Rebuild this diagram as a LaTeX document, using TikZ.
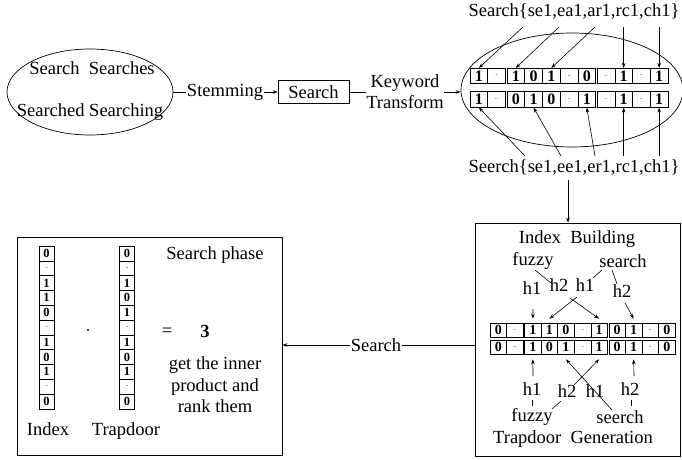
\documentclass[tikz,border=0pt]{standalone}
\usepackage{fontspec}
\setmainfont{Liberation Serif}
\usetikzlibrary{arrows.meta,shapes.geometric,calc}
\newcommand{\dd}{{\fontsize{6}{6}\selectfont\mdseries..}}
\newcommand{\ds}{{\fontsize{6}{6}\selectfont\mdseries -}}
\tikzset{
  txt/.style={font=\fontsize{18.5}{21}\selectfont, inner sep=0.5pt},
  cell/.style={draw, line width=0.6pt, inner sep=0pt},
  arr/.style={-{Stealth[length=5pt,width=3.5pt]}, line width=0.6pt},
  ln/.style={line width=0.6pt},
  box/.style={draw, line width=0.8pt, inner sep=0pt},
}
\begin{document}
\begin{tikzpicture}[x=1pt,y=-1pt]
\useasboundingbox (0,0) rectangle (682,460);

% ---------- top row ----------
\node[draw, ellipse, line width=0.7pt, minimum width=166, minimum height=86, inner sep=0pt] (E1) at (90,92) {};
\node[txt] (w1) at (92,68) {Search\ \ Searches};
\node[txt] (w2) at (90,112) {Searched Searching};
\node[txt] (stem) at (225,92) {Stemming};
\node[draw, line width=0.7pt, minimum width=71, minimum height=23, inner sep=0pt, font=\fontsize{18.5}{21}\selectfont] (kw) at (313.5,92) {Search};
\node[txt, align=center] (kt) at (405,92) {Keyword\\Transform};
\draw[ln] (E1.east) -- (stem.west);
\draw[arr] (stem.east) -- (kw.west);
\draw[ln] (kw.east) -- (kt.west);
\node[draw, ellipse, line width=0.7pt, minimum width=222, minimum height=114, inner sep=0pt] (E2) at (572,90) {};
\draw[arr] (kt.east) -- (kt.east -| E2.west);

% top arrays
\foreach \v [count=\i] in {1,\ds,1,0,1,\dd,0,\dd,1,\ds,1}
  \node[cell, font=\bfseries\fontsize{16}{16}\selectfont, minimum width=17.73, minimum height=15.5]
    (a\i) at ({470+17.73*(\i-0.5)+1.5*(\i>2)+1.5*(\i>7)},76) {\v};
\foreach \v [count=\i] in {1,\dd,0,1,0,\dd,1,\dd,1,\ds,1}
  \node[cell, font=\bfseries\fontsize{16}{16}\selectfont, minimum width=17.73, minimum height=15.5]
    (b\i) at ({470+17.73*(\i-0.5)+1.5*(\i>2)+1.5*(\i>7)},99.5) {\v};

\node[txt] (topT) at (574,12) {Search\{se1,ea1,ar1,rc1,ch1\}};
\node[txt] (botT) at (574,168) {Seerch\{se1,ee1,er1,rc1,ch1\}};

\coordinate (p1) at (523,27);
\coordinate (p2) at (559,27);
\coordinate (p3) at (595,27);
\draw[arr] (p1) -- (a1.north);
\draw[arr] (p2) -- (a3.north);
\draw[arr] (p3) -- (a5.north);
\draw[arr] (a9.north |- p1) -- (a9.north);
\draw[arr] (a11.north |- p1) -- (a11.north);

\coordinate (q1) at (525,156);
\coordinate (q2) at (561,156);
\coordinate (q3) at (595,156);
\draw[arr] (q1) -- (b1.south);
\draw[arr] (q2) -- (b4.south);
\draw[arr] (q3) -- (b7.south);
\draw[arr] (b9.south |- q1) -- (b9.south);
\draw[arr] (b11.south |- q1) -- (b11.south);

% ---------- bottom right box ----------
\node[box, minimum width=205, minimum height=233] (BR) at (577.5,339.5) {};
\coordinate (v0) at (568,180);
\draw[arr] (v0) -- (v0 |- BR.north);

\node[txt] (ib) at (577,239) {Index\ \ Building};
\node[txt] (fz1) at (533,261) {fuzzy};
\node[txt] (se1) at (623,261) {search};
\node[txt] (h1a) at (532,288) {h1};
\node[txt] (h2a) at (559,285) {h2};
\node[txt] (h1b) at (585,285) {h1};
\node[txt] (h2b) at (622,291) {h2};
\draw[ln] (535,270) -- (551,283);
\draw[ln] (602,270) -- (593,278);
\draw[ln] (612,270) -- (617,284);

\foreach \v [count=\i] in {0,\dd,1,1,0,\dd,1,0,1,\dd,0}
  \node[cell, font=\bfseries\fontsize{14}{14}\selectfont, minimum width=16.55, minimum height=14]
    (c\i) at ({490+16.55*(\i-0.5)+1.5*(\i>2)+1.5*(\i>7)},330) {\v};
\foreach \v [count=\i] in {0,\dd,1,0,1,\dd,1,0,1,\dd,0}
  \node[cell, font=\bfseries\fontsize{14}{14}\selectfont, minimum width=16.55, minimum height=14]
    (r\i) at ({490+16.55*(\i-0.5)+1.5*(\i>2)+1.5*(\i>7)},347) {\v};

\coordinate (d1) at (533,309);
\coordinate (d2) at (570,298);
\coordinate (d3) at (577,297);
\coordinate (d4) at (625,303);
\draw[arr] (d1) -- ([yshift=4pt]c3.north);
\draw[arr] (d2) -- ([yshift=4pt]c7.north);
\draw[arr] (d3) -- ([yshift=4pt]c4.north);
\draw[arr] (d4) -- ([yshift=4pt]c9.north);

\coordinate (e1) at (533,376);
\coordinate (e2) at (612,410);
\coordinate (e3) at (574,385);
\coordinate (e4) at (634,376);
\draw[arr] (e1) -- ([yshift=-5pt]r3.south);
\draw[arr] (e2) -- ([yshift=-5pt]r5.south);
\draw[arr] (e3) -- ([yshift=-5pt]r7.south);
\draw[arr] (e4) -- ([yshift=-5pt]r9.south);

\node[txt] (h1c) at (532,389) {h1};
\node[txt] (h2c) at (567,391) {h2};
\node[txt] (h1d) at (595,391) {h1};
\node[txt] (h2d) at (630,389) {h2};
\draw[ln] (532,400) -- (532,406);
\draw[ln] (631,400) -- (631,406);
\draw[ln] (552,409) -- (561,401);
\node[txt] (fz2) at (532,417) {fuzzy};
\node[txt] (se2) at (620,417) {seerch};
\node[txt] (tg) at (573,439) {Trapdoor\ \ Generation};

% ---------- left box ----------
\node[box, minimum width=265, minimum height=218] (LB) at (149.5,346) {};
\foreach \v [count=\i] in {0,\dd,1,1,0,\dd,1,0,1,\dd,0}
  \node[cell, font=\bfseries\fontsize{12.5}{12.5}\selectfont, minimum width=15, minimum height=14.8]
    (ix\i) at (46.5,{246+14.8*(\i-0.5)}) {\v};
\foreach \v [count=\i] in {0,\ds,1,0,1,\ds,1,0,1,\ds,0}
  \node[cell, font=\bfseries\fontsize{12.5}{12.5}\selectfont, minimum width=15, minimum height=14.8]
    (tx\i) at (127,{246+14.8*(\i-0.5)}) {\v};
\node[txt] (il) at (48,429) {Index};
\node[txt] (tl) at (126,431) {Trapdoor};
\node[circle, fill, inner sep=0.8pt] (dot) at (88,330) {};
\node[txt] (eq) at (167,332) {=};
\node[txt, font=\bfseries\fontsize{18.5}{21}\selectfont] (three) at (205,331) {3};
\node[txt] (sp) at (215,255) {Search phase};
\node[txt, align=center, font=\fontsize{18.5}{21.5}\selectfont] (gp) at (215,385) {get the inner\\product and\\rank them};

\node[txt] (srch) at (376,345) {Search};
\draw[ln] (srch -| BR.west) -- (srch.east);
\draw[arr] (srch.west) -- (srch -| LB.east);
\end{tikzpicture}
\end{document}
